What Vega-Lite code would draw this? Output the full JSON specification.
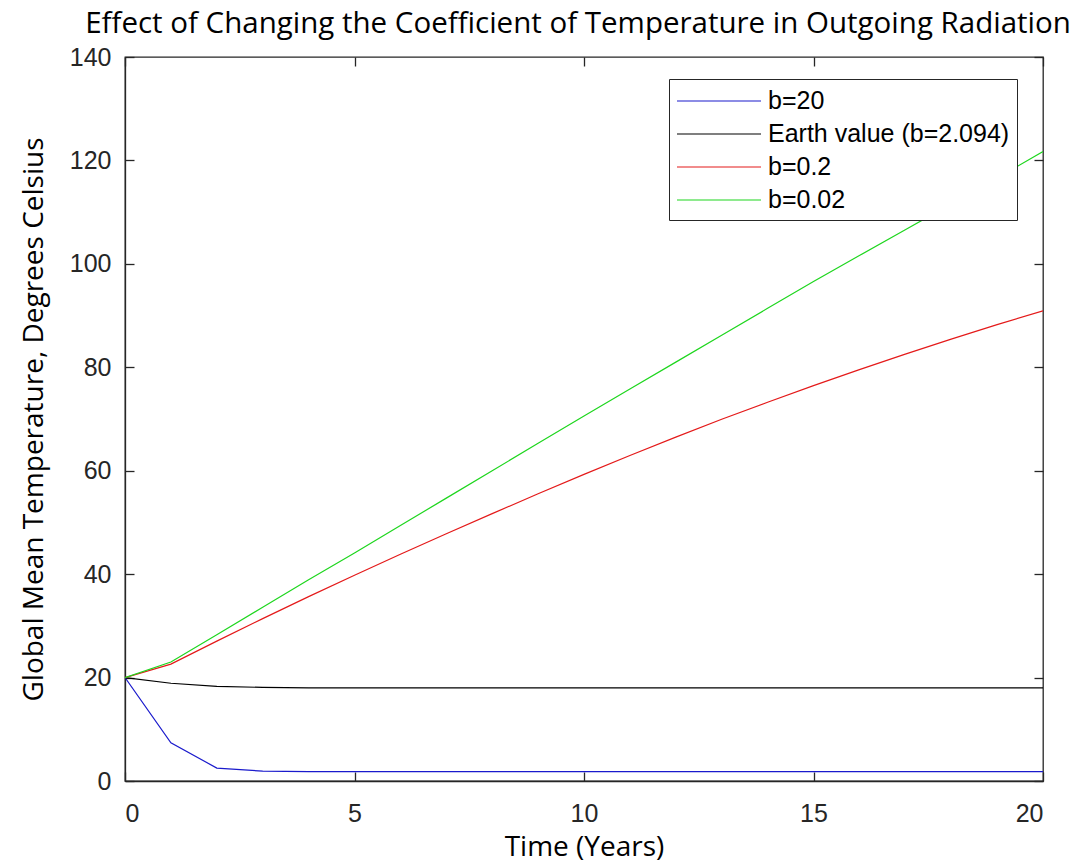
{
  "$schema": "https://vega.github.io/schema/vega-lite/v6.json",
  "autosize": {"type": "none"},
  "padding": {"left": 125, "top": 57, "right": 37, "bottom": 86},
  "width": 918,
  "height": 724,
  "background": "white",
  "title": {
    "text": "Effect of Changing the Coefficient of Temperature in Outgoing Radiation",
    "font": "Open Sans",
    "fontSize": 29.5,
    "fontWeight": "normal",
    "color": "#000000",
    "anchor": "middle",
    "offset": 6,
    "dx": -6
  },
  "config": {
    "view": {"stroke": "#262626", "strokeWidth": 1.3},
    "axis": {
      "grid": false,
      "domainColor": "#262626",
      "tickColor": "#262626",
      "labelColor": "#262626",
      "labelFont": "Liberation Sans",
      "labelFontSize": 25,
      "titleFont": "Open Sans",
      "titleFontSize": 28,
      "titleFontWeight": "normal",
      "titleColor": "#000000",
      "tickSize": -9,
      "domainWidth": 1.3,
      "tickWidth": 1.3
    }
  },
  "data": {
    "values": [
      {"t": 0, "s": "b=20", "T": 20},
      {"t": 1, "s": "b=20", "T": 7.4},
      {"t": 2, "s": "b=20", "T": 2.5},
      {"t": 3, "s": "b=20", "T": 1.9},
      {"t": 4, "s": "b=20", "T": 1.8},
      {"t": 5, "s": "b=20", "T": 1.8},
      {"t": 6, "s": "b=20", "T": 1.8},
      {"t": 7, "s": "b=20", "T": 1.8},
      {"t": 8, "s": "b=20", "T": 1.8},
      {"t": 9, "s": "b=20", "T": 1.8},
      {"t": 10, "s": "b=20", "T": 1.8},
      {"t": 11, "s": "b=20", "T": 1.8},
      {"t": 12, "s": "b=20", "T": 1.8},
      {"t": 13, "s": "b=20", "T": 1.8},
      {"t": 14, "s": "b=20", "T": 1.8},
      {"t": 15, "s": "b=20", "T": 1.8},
      {"t": 16, "s": "b=20", "T": 1.8},
      {"t": 17, "s": "b=20", "T": 1.8},
      {"t": 18, "s": "b=20", "T": 1.8},
      {"t": 19, "s": "b=20", "T": 1.8},
      {"t": 20, "s": "b=20", "T": 1.8},
      {"t": 0, "s": "Earth value (b=2.094)", "T": 20},
      {"t": 1, "s": "Earth value (b=2.094)", "T": 18.9},
      {"t": 2, "s": "Earth value (b=2.094)", "T": 18.3},
      {"t": 3, "s": "Earth value (b=2.094)", "T": 18.1},
      {"t": 4, "s": "Earth value (b=2.094)", "T": 18.0},
      {"t": 5, "s": "Earth value (b=2.094)", "T": 18.0},
      {"t": 6, "s": "Earth value (b=2.094)", "T": 18.0},
      {"t": 7, "s": "Earth value (b=2.094)", "T": 18.0},
      {"t": 8, "s": "Earth value (b=2.094)", "T": 18.0},
      {"t": 9, "s": "Earth value (b=2.094)", "T": 18.0},
      {"t": 10, "s": "Earth value (b=2.094)", "T": 18.0},
      {"t": 11, "s": "Earth value (b=2.094)", "T": 18.0},
      {"t": 12, "s": "Earth value (b=2.094)", "T": 18.0},
      {"t": 13, "s": "Earth value (b=2.094)", "T": 18.0},
      {"t": 14, "s": "Earth value (b=2.094)", "T": 18.0},
      {"t": 15, "s": "Earth value (b=2.094)", "T": 18.0},
      {"t": 16, "s": "Earth value (b=2.094)", "T": 18.0},
      {"t": 17, "s": "Earth value (b=2.094)", "T": 18.0},
      {"t": 18, "s": "Earth value (b=2.094)", "T": 18.0},
      {"t": 19, "s": "Earth value (b=2.094)", "T": 18.0},
      {"t": 20, "s": "Earth value (b=2.094)", "T": 18.0},
      {"t": 0, "s": "b=0.2", "T": 20},
      {"t": 1, "s": "b=0.2", "T": 22.6},
      {"t": 2, "s": "b=0.2", "T": 27.05},
      {"t": 3, "s": "b=0.2", "T": 31.4},
      {"t": 4, "s": "b=0.2", "T": 35.65},
      {"t": 5, "s": "b=0.2", "T": 39.8},
      {"t": 6, "s": "b=0.2", "T": 43.85},
      {"t": 7, "s": "b=0.2", "T": 47.8},
      {"t": 8, "s": "b=0.2", "T": 51.7},
      {"t": 9, "s": "b=0.2", "T": 55.55},
      {"t": 10, "s": "b=0.2", "T": 59.3},
      {"t": 11, "s": "b=0.2", "T": 62.95},
      {"t": 12, "s": "b=0.2", "T": 66.5},
      {"t": 13, "s": "b=0.2", "T": 69.95},
      {"t": 14, "s": "b=0.2", "T": 73.25},
      {"t": 15, "s": "b=0.2", "T": 76.45},
      {"t": 16, "s": "b=0.2", "T": 79.55},
      {"t": 17, "s": "b=0.2", "T": 82.55},
      {"t": 18, "s": "b=0.2", "T": 85.45},
      {"t": 19, "s": "b=0.2", "T": 88.25},
      {"t": 20, "s": "b=0.2", "T": 90.9},
      {"t": 0, "s": "b=0.02", "T": 20},
      {"t": 1, "s": "b=0.02", "T": 23.0},
      {"t": 2, "s": "b=0.02", "T": 28.3},
      {"t": 3, "s": "b=0.02", "T": 33.6},
      {"t": 4, "s": "b=0.02", "T": 38.9},
      {"t": 5, "s": "b=0.02", "T": 44.1},
      {"t": 6, "s": "b=0.02", "T": 49.4},
      {"t": 7, "s": "b=0.02", "T": 54.7},
      {"t": 8, "s": "b=0.02", "T": 60.0},
      {"t": 9, "s": "b=0.02", "T": 65.3},
      {"t": 10, "s": "b=0.02", "T": 70.6},
      {"t": 11, "s": "b=0.02", "T": 75.8},
      {"t": 12, "s": "b=0.02", "T": 81.0},
      {"t": 13, "s": "b=0.02", "T": 86.2},
      {"t": 14, "s": "b=0.02", "T": 91.4},
      {"t": 15, "s": "b=0.02", "T": 96.6},
      {"t": 16, "s": "b=0.02", "T": 101.6},
      {"t": 17, "s": "b=0.02", "T": 106.6},
      {"t": 18, "s": "b=0.02", "T": 111.6},
      {"t": 19, "s": "b=0.02", "T": 116.6},
      {"t": 20, "s": "b=0.02", "T": 121.7}
    ]
  },
  "resolve": {"axis": {"x": "independent", "y": "independent"}},
  "layer": [
    {
      "mark": {"type": "line", "strokeWidth": 1.2, "clip": true},
      "encoding": {
        "x": {
          "field": "t", "type": "quantitative",
          "scale": {"domain": [0, 20], "nice": false},
          "axis": {"values": [0, 5, 10, 15, 20], "title": "Time (Years)", "labelPadding": 29, "titlePadding": 7}
        },
        "y": {
          "field": "T", "type": "quantitative",
          "scale": {"domain": [0, 140], "nice": false},
          "axis": {"values": [0, 20, 40, 60, 80, 100, 120, 140], "title": "Global Mean Temperature, Degrees Celsius", "labelPadding": 23, "titlePadding": 21}
        },
        "color": {
          "field": "s", "type": "nominal",
          "scale": {
            "domain": ["b=20", "Earth value (b=2.094)", "b=0.2", "b=0.02"],
            "range": ["#1a1acc", "#000000", "#e41a1a", "#1ed61e"]
          },
          "legend": {
            "title": null,
            "orient": "none",
            "legendX": 544,
            "legendY": 22,
            "symbolType": "M-1,0H5",
            "symbolSize": 784,
            "symbolStrokeWidth": 1.2,
            "labelFont": "Liberation Sans",
            "labelFontSize": 25,
            "labelLimit": 500,
            "labelColor": "#000000",
            "labelOffset": 62,
            "rowPadding": 5,
            "strokeColor": "#262626",
            "fillColor": "white",
            "padding": 7
          }
        }
      }
    },
    {
      "mark": {"type": "line", "opacity": 0},
      "encoding": {
        "x": {
          "field": "t", "type": "quantitative",
          "axis": {"orient": "top", "values": [0, 5, 10, 15, 20], "labels": false, "title": null, "domain": false}
        },
        "y": {
          "field": "T", "type": "quantitative",
          "axis": {"orient": "right", "values": [0, 20, 40, 60, 80, 100, 120, 140], "labels": false, "title": null, "domain": false}
        },
        "detail": {"field": "s"}
      }
    }
  ]
}
